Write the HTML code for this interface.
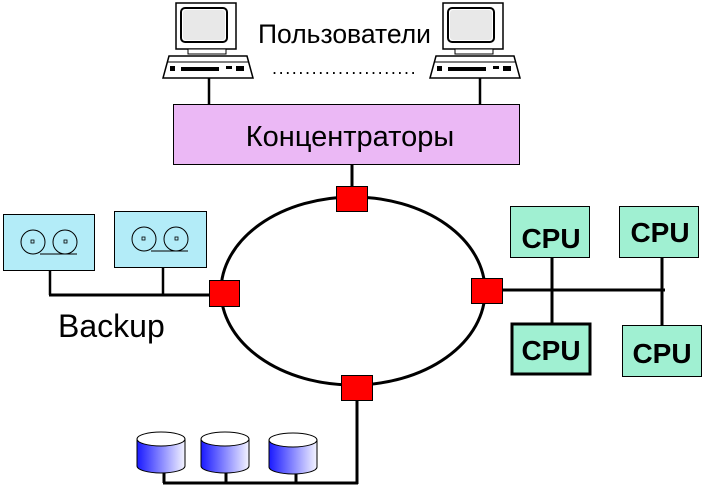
<!DOCTYPE html>
<html><head><meta charset="utf-8"><style>
html,body{margin:0;padding:0;background:#fff;}
svg{display:block;}
text{font-family:"Liberation Sans","DejaVu Sans",sans-serif;}
</style></head><body>
<svg width="703" height="487" viewBox="0 0 703 487" xmlns="http://www.w3.org/2000/svg">
<defs>
<linearGradient id="cyl" x1="0" x2="1" y1="0" y2="0">
<stop offset="0" stop-color="#1a1aff"/><stop offset="1" stop-color="#f4f4ff"/>
</linearGradient>
<g id="pc">
<rect x="13" y="3" width="60" height="46" fill="#fff" stroke="#000" stroke-width="1.5"/>
<rect x="18" y="8" width="46" height="34" rx="4" fill="#fff" stroke="#000" stroke-width="2"/>
<rect x="20" y="10" width="42" height="30" rx="3" fill="#e8e8e8"/>
<rect x="25" y="49" width="38" height="5" fill="#fff" stroke="#000"/>
<path d="M6 56 L84 56 L90 78 L0 78 Z" fill="#fff" stroke="#000" stroke-width="1.5"/>
<line x1="4" y1="62" x2="86" y2="62" stroke="#000"/>
<rect x="7" y="66" width="5" height="5" fill="#000"/>
<rect x="18" y="67" width="38" height="4" fill="#000"/>
<rect x="63" y="66" width="6" height="3" fill="#000"/>
<rect x="73" y="66" width="8" height="5" fill="#000"/>
</g>
<g id="tape">
<circle cx="28" cy="28" r="12" fill="none" stroke="#000"/>
<circle cx="60" cy="28" r="12" fill="none" stroke="#000"/>
<line x1="35" y1="40" x2="72" y2="40" stroke="#000"/>
<rect x="26" y="26" width="3" height="3" fill="none" stroke="#000" stroke-width=".8"/>
<rect x="59" y="26" width="3" height="3" fill="none" stroke="#000" stroke-width=".8"/>
</g>
<g id="disk">
<path d="M0 9 L0 36 A24 7 0 0 0 48 36 L48 9" fill="url(#cyl)" stroke="#000"/>
<ellipse cx="24" cy="9" rx="24" ry="7" fill="#fff" stroke="#000"/>
</g>
</defs>

<use href="#pc" x="163" y="0"/>
<use href="#pc" x="430" y="0"/>
<text x="258" y="43" font-size="26.5">Пользователи</text>
<text x="272" y="74" font-size="18" letter-spacing="1.6">......................</text>
<line x1="209" y1="78" x2="209" y2="105" stroke="#000" stroke-width="2.5"/>
<line x1="480" y1="78" x2="480" y2="105" stroke="#000" stroke-width="2.5"/>

<rect x="173.5" y="104.5" width="346" height="60" fill="#ebb8f5" stroke="#000"/>
<text x="350" y="146" font-size="29" text-anchor="middle">Концентраторы</text>
<line x1="352" y1="165" x2="352" y2="187" stroke="#000" stroke-width="3"/>

<ellipse cx="353" cy="291" rx="132" ry="94" fill="none" stroke="#000" stroke-width="3"/>

<rect x="3.5" y="214.5" width="91" height="56" fill="#b3ecf8" stroke="#000"/>
<rect x="114.5" y="211.5" width="92" height="56" fill="#b3ecf8" stroke="#000"/>
<use href="#tape" x="5" y="214"/>
<use href="#tape" x="116" y="211"/>
<line x1="50" y1="270" x2="50" y2="295" stroke="#000" stroke-width="2.5"/>
<line x1="163" y1="267" x2="163" y2="295" stroke="#000" stroke-width="2.5"/>
<line x1="49" y1="295" x2="212" y2="295" stroke="#000" stroke-width="3"/>
<text x="58" y="337" font-size="32">Backup</text>

<line x1="502" y1="290" x2="665" y2="290" stroke="#000" stroke-width="3"/>
<line x1="552" y1="257" x2="552" y2="323" stroke="#000" stroke-width="3"/>
<line x1="662" y1="257" x2="662" y2="325" stroke="#000" stroke-width="3"/>
<rect x="510.5" y="206.5" width="79" height="51" fill="#a0f0d2" stroke="#000"/>
<rect x="619.5" y="206.5" width="79" height="51" fill="#a0f0d2" stroke="#000"/>
<rect x="512" y="324" width="78" height="50" fill="#a0f0d2" stroke="#000" stroke-width="3"/>
<rect x="622.5" y="325.5" width="79" height="51" fill="#a0f0d2" stroke="#000"/>
<g font-size="28" font-weight="bold" text-anchor="middle">
<text x="551" y="248">CPU</text>
<text x="660" y="242">CPU</text>
<text x="551" y="360">CPU</text>
<text x="662" y="363">CPU</text>
</g>

<line x1="163" y1="483" x2="358" y2="483" stroke="#000" stroke-width="3"/>
<line x1="357" y1="400" x2="357" y2="484" stroke="#000" stroke-width="3"/>
<line x1="164" y1="470" x2="164" y2="483" stroke="#000" stroke-width="3"/>
<line x1="226" y1="470" x2="226" y2="483" stroke="#000" stroke-width="3"/>
<line x1="296" y1="470" x2="296" y2="483" stroke="#000" stroke-width="3"/>
<use href="#disk" x="137" y="430"/>
<use href="#disk" x="201" y="430"/>
<use href="#disk" x="269" y="431"/>

<g fill="#ff0000" stroke="#000">
<rect x="336.5" y="186.5" width="31" height="25"/>
<rect x="209.5" y="280.5" width="30" height="26"/>
<rect x="471.5" y="278.5" width="31" height="25"/>
<rect x="341.5" y="375.5" width="31" height="25"/>
</g>
</svg>
</body></html>
